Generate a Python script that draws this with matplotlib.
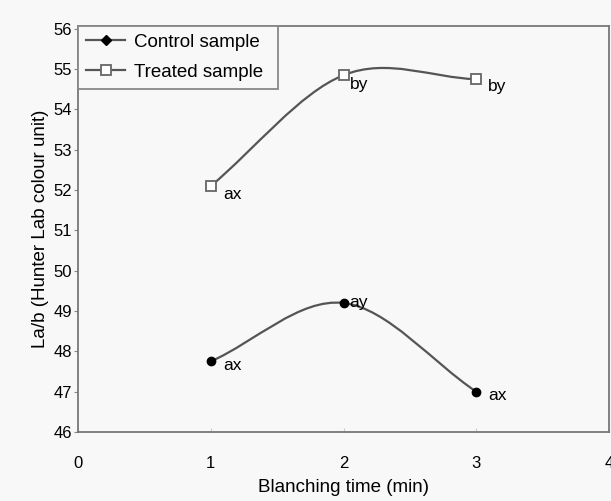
import matplotlib
matplotlib.use("Agg")
import matplotlib.pyplot as plt
from matplotlib.path import Path
from matplotlib.patches import PathPatch
from matplotlib.lines import Line2D
import numpy as np

plt.rcParams['font.family'] = ['Liberation Sans', 'DejaVu Sans']

times = [1, 2, 3]
control = [47.75, 49.2, 47.0]
treated = [52.1, 54.85, 54.75]
control_labels = ['ax', 'ay', 'ax']
treated_labels = ['ax', 'by', 'by']
xticks = [0, 1, 2, 3, 4]
yticks = [46, 47, 48, 49, 50, 51, 52, 53, 54, 55, 56]

LINE = '#555555'
BG = '#f8f8f8'
PX = 0.72  # points per pixel at 100 dpi


def smooth_path(xs, ys):
    pts = np.column_stack([xs, ys]).astype(float)
    n = len(pts)
    verts = [pts[0]]
    codes = [Path.MOVETO]
    for i in range(n - 1):
        p0 = pts[i - 1] if i > 0 else pts[i]
        p1 = pts[i]
        p2 = pts[i + 1]
        p3 = pts[i + 2] if i + 2 < n else pts[i + 1]
        t1 = (p2 - p0) / (2 if i > 0 else 1)
        t2 = (p3 - p1) / (2 if i + 2 < n else 1)
        c1 = p1 + t1 / 3
        c2 = p2 - t2 / 3
        verts += [c1, c2, p2]
        codes += [Path.CURVE4] * 3
    return Path(verts, codes)


fig = plt.figure(figsize=(6.11, 5.01), dpi=100, facecolor=BG)
ax_w = (609 - 78)
ax = fig.add_axes([78 / 611, 69 / 501, ax_w / 611, (475 - 69) / 501], facecolor=BG)

for ys in (control, treated):
    ax.add_patch(PathPatch(smooth_path(times, ys), facecolor='none', edgecolor=LINE, lw=1.6, zorder=2))

ax.plot(times, control, linestyle='none', marker='o', ms=6, color='black', zorder=3)
ax.plot(times, treated, linestyle='none', marker='s', ms=7, mfc='white', mec='#666666', mew=1.3, zorder=3)

lc = Line2D([], [], color=LINE, lw=1.6, marker='D', ms=5, mfc='black', mec='black')
lt = Line2D([], [], color=LINE, lw=1.6, marker='s', ms=7, mfc='white', mec='#666666', mew=1.3)
leg = ax.legend([lc, lt], ['Control sample', 'Treated sample'], loc='upper left',
                bbox_to_anchor=(0, 1.0, 200 / ax_w, 0), mode='expand',
                fancybox=False, framealpha=1, edgecolor='#888888',
                facecolor=BG, fontsize=13.5, handlelength=2.1, borderaxespad=0, borderpad=0.42,
                labelspacing=0.68, handletextpad=0.45)
leg.get_frame().set_linewidth(1.3)

# annotations (pixel offsets from the marker)
ctrl_off = [(12, -4), (6, 0), (12, -4)]
trt_off = [(13, -8), (6, -9), (12, -7)]
for x, y, t, (dx, dy) in zip(times, control, control_labels, ctrl_off):
    ax.annotate(t, (x, y), xytext=(dx * PX, dy * PX), textcoords='offset points',
                fontsize=12.5, va='center', ha='left')
for x, y, t, (dx, dy) in zip(times, treated, treated_labels, trt_off):
    ax.annotate(t, (x, y), xytext=(dx * PX, dy * PX), textcoords='offset points',
                fontsize=12.5, va='center', ha='left')

ax.set_xlim(0, 4)
ax.set_ylim(46, 56.07)
ax.set_xticks(xticks)
ax.set_yticks(yticks)
ax.tick_params(axis='x', length=3, pad=17, labelsize=12, color='#cccccc', direction='in')
ax.tick_params(axis='y', length=3, pad=1.5, labelsize=12, color='#888888')
for s in ax.spines.values():
    s.set_color('#777777')
    s.set_linewidth(1.3)

ax.set_xlabel('Blanching time (min)', fontsize=13.5, labelpad=6)
ax.set_ylabel('La/b (Hunter Lab colour unit)', fontsize=13.5, labelpad=3)

fig.savefig('out.png', dpi=100, facecolor=BG)
